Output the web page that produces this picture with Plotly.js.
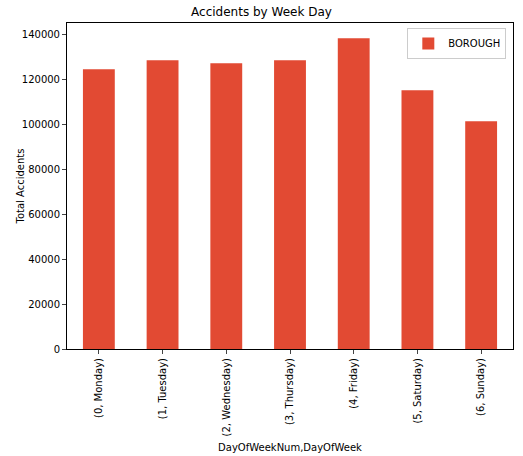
<!DOCTYPE html>
<html><head><meta charset="utf-8">
<script src="https://cdn.plot.ly/plotly-3.0.1.min.js"></script>
<style>body{margin:0}</style></head>
<body><div id="chart" style="width:523px;height:456px"></div>
<script>
const days = ['(0, Monday)', '(1, Tuesday)', '(2, Wednesday)', '(3, Thursday)', '(4, Friday)', '(5, Saturday)', '(6, Sunday)'];
const accidents = [124400, 128400, 127100, 128400, 138200, 115100, 101300];

const font = { family: 'DejaVu Sans', size: 10, color: '#000' };
const trace = {
    type: 'bar',
    x: days,
    y: accidents,
    name: 'BOROUGH',
    width: 0.5,
    marker: { color: '#E24A33' },
    showlegend: true
};
const layout = {
    width: 523, height: 456,
    margin: { l: 67, r: 10, t: 23, b: 107 },
    font: font,
    title: { text: 'Accidents by Week Day', font: { family: 'DejaVu Sans', size: 12 }, y: 0.975, yanchor: 'middle' },
    plot_bgcolor: '#fff',
    xaxis: {
        title: { text: 'DayOfWeekNum,DayOfWeek', font: font, standoff: 8 },
        tickangle: -90, showline: true, mirror: true, linecolor: '#000',
        ticks: 'outside', ticklen: 4
    },
    yaxis: {
        title: { text: 'Total Accidents', font: font },
        range: [0, 145000], dtick: 20000, tickformat: 'd',
        showgrid: false, zeroline: false, showline: true, mirror: true, linecolor: '#000',
        ticks: 'outside', ticklen: 4
    },
    legend: { x: 0.985, y: 0.985, xanchor: 'right', yanchor: 'top', bordercolor: '#ccc', borderwidth: 1, font: font }
};
Plotly.newPlot('chart', [trace], layout, { displayModeBar: false });
</script></body></html>
